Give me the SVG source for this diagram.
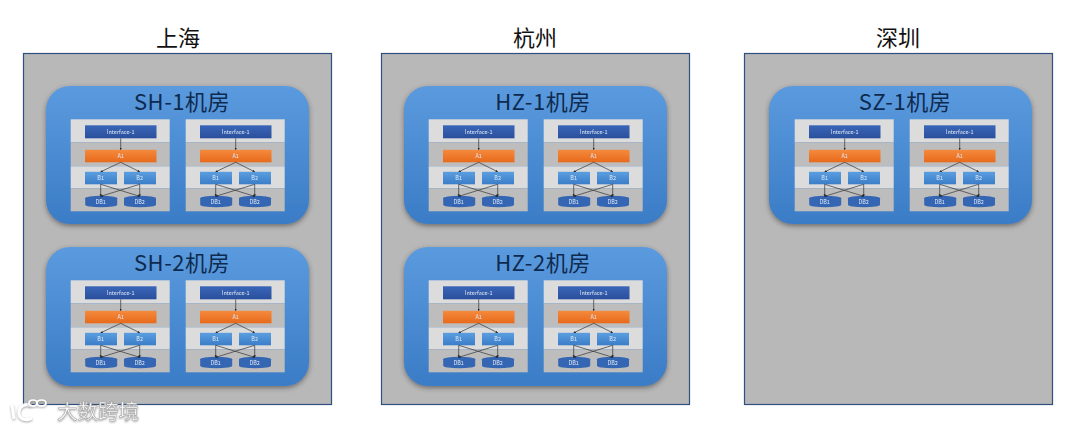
<svg xmlns="http://www.w3.org/2000/svg" width="1080" height="431" viewBox="0 0 1080 431">
<style>
text{font-family:"Noto Sans CJK SC","Noto Sans",sans-serif;text-anchor:middle}
.ttl{font-size:22px;fill:#111}
.room{font-size:22px;letter-spacing:.5px;fill:#0e2a4e}
.site{fill:#b8b8b8;stroke:#2f4f80;stroke-width:1.2}
.rm{fill:url(#blue);filter:url(#sh)}
.l{fill:#dcdcdc}.d{fill:#bdbdbd}
.cell{filter:url(#soft)}
.i{fill:url(#ib)}.a{fill:url(#oa)}.b{fill:url(#bb)}.db{fill:#3566b4}
.s{font-size:5.5px;fill:#dfe8f5}
.k{stroke:#333;stroke-width:.7;fill:none;marker-end:url(#ar)}
.wm{font-size:20.500px;fill:#fff;stroke:#aaa;stroke-width:.6;filter:url(#wmf)}
.wl{fill:none;stroke:#fff;stroke-width:3;filter:url(#wmf)}
.wi{fill:none;stroke:#fff;stroke-width:1.700;filter:url(#wmf)}
</style>
<defs>
<linearGradient id="blue" x1="0" y1="0" x2="0" y2="1"><stop offset="0" stop-color="#5b9ade"/><stop offset="1" stop-color="#3a7cc6"/></linearGradient>
<linearGradient id="ib" x1="0" y1="0" x2="0" y2="1"><stop offset="0" stop-color="#3a66b8"/><stop offset="1" stop-color="#2a4f9c"/></linearGradient>
<linearGradient id="oa" x1="0" y1="0" x2="0" y2="1"><stop offset="0" stop-color="#f58a3c"/><stop offset="1" stop-color="#e86a1c"/></linearGradient>
<linearGradient id="bb" x1="0" y1="0" x2="0" y2="1"><stop offset="0" stop-color="#5b9ee0"/><stop offset="1" stop-color="#3b7ec8"/></linearGradient>
<filter id="sh" x="-5%" y="-5%" width="110%" height="112%"><feDropShadow dx="0" dy="2" stdDeviation="2.500" flood-color="#333" flood-opacity=".55"/></filter>
<filter id="soft" x="-3%" y="-3%" width="106%" height="106%"><feGaussianBlur stdDeviation=".35"/></filter>
<filter id="wmf" x="-15%" y="-25%" width="130%" height="160%"><feDropShadow dx="0" dy="1" stdDeviation="1" flood-color="#777" flood-opacity=".7"/></filter>
<marker id="ar" markerWidth="4" markerHeight="4" refX="3" refY="2" orient="auto"><path d="M0,0.4 L3.4,2 L0,3.6z" fill="#222"/></marker>
<path id="cyl" class="db" d="M0,2.500 a16,2.500 0 0 1 32,0 v6.500 a16,2.500 0 0 1 -32,0z"/>
<g id="links">
<path class="k" d="M50,19 V30.500"/>
<path class="k" d="M50,43 L30,52.500"/>
<path class="k" d="M50,43 L69,52.500"/>
<path class="k" d="M30,65 V77"/>
<path class="k" d="M69,65 V77"/>
<path class="k" d="M30,65 L69,77"/>
<path class="k" d="M69,65 L30,77"/>
</g>
</defs>
<rect width="1080" height="431" fill="#fff"/>
<text class="ttl" x="178" y="46">上海</text>
<text class="ttl" x="535" y="46">杭州</text>
<text class="ttl" x="898" y="46">深圳</text>
<g id="site-sh"><rect class="site" x="23.500" y="53.500" width="308" height="351"/></g>
<g id="site-hz"><rect class="site" x="381.500" y="53.500" width="308" height="351"/></g>
<g id="site-sz"><rect class="site" x="744.500" y="53.500" width="308" height="351"/></g>
<g id="room-sh1"><rect class="rm" x="46" y="86" width="263" height="138" rx="24"/><text class="room" x="182" y="110">SH-1机房</text></g>
<g id="room-sh2"><rect class="rm" x="46" y="247" width="263" height="139" rx="24"/><text class="room" x="182" y="271">SH-2机房</text></g>
<g id="room-hz1"><rect class="rm" x="404" y="86" width="263" height="138" rx="24"/><text class="room" x="543" y="110">HZ-1机房</text></g>
<g id="room-hz2"><rect class="rm" x="404" y="247" width="263" height="139" rx="24"/><text class="room" x="543" y="271">HZ-2机房</text></g>
<g id="room-sz1"><rect class="rm" x="769" y="86" width="263" height="138" rx="24"/><text class="room" x="905" y="110">SZ-1机房</text></g>

<g id="cell-sh1-a" class="cell" transform="translate(70.700 119.300)"><rect class="l" width="99" height="23"/><rect class="d" y="23" width="99" height="24"/><rect class="l" y="47" width="99" height="22"/><rect class="d" y="69" width="99" height="23"/><rect class="i" x="14.300" y="6" width="71.500" height="13"/><text class="s" x="50" y="14.500">Interface-1</text><rect class="a" x="14.300" y="30.500" width="71.500" height="12.500"/><text class="s" x="50" y="39">A1</text><rect class="b" x="14.300" y="52.500" width="32" height="12.500"/><text class="s" x="30" y="61">B1</text><rect class="b" x="53.300" y="52.500" width="32" height="12.500"/><text class="s" x="69" y="61">B2</text><use href="#cyl" x="14.500" y="76.500"/><text class="s" x="30" y="85">DB1</text><use href="#cyl" x="53.300" y="76.500"/><text class="s" x="69" y="85">DB2</text></g>
<g id="cell-sh1-b" class="cell" transform="translate(185.700 119.300)"><rect class="l" width="99" height="23"/><rect class="d" y="23" width="99" height="24"/><rect class="l" y="47" width="99" height="22"/><rect class="d" y="69" width="99" height="23"/><rect class="i" x="14.300" y="6" width="71.500" height="13"/><text class="s" x="50" y="14.500">Interface-1</text><rect class="a" x="14.300" y="30.500" width="71.500" height="12.500"/><text class="s" x="50" y="39">A1</text><rect class="b" x="14.300" y="52.500" width="32" height="12.500"/><text class="s" x="30" y="61">B1</text><rect class="b" x="53.300" y="52.500" width="32" height="12.500"/><text class="s" x="69" y="61">B2</text><use href="#cyl" x="14.500" y="76.500"/><text class="s" x="30" y="85">DB1</text><use href="#cyl" x="53.300" y="76.500"/><text class="s" x="69" y="85">DB2</text></g>
<g id="cell-sh2-a" class="cell" transform="translate(70.700 280.300)"><rect class="l" width="99" height="23"/><rect class="d" y="23" width="99" height="24"/><rect class="l" y="47" width="99" height="22"/><rect class="d" y="69" width="99" height="23"/><rect class="i" x="14.300" y="6" width="71.500" height="13"/><text class="s" x="50" y="14.500">Interface-1</text><rect class="a" x="14.300" y="30.500" width="71.500" height="12.500"/><text class="s" x="50" y="39">A1</text><rect class="b" x="14.300" y="52.500" width="32" height="12.500"/><text class="s" x="30" y="61">B1</text><rect class="b" x="53.300" y="52.500" width="32" height="12.500"/><text class="s" x="69" y="61">B2</text><use href="#cyl" x="14.500" y="76.500"/><text class="s" x="30" y="85">DB1</text><use href="#cyl" x="53.300" y="76.500"/><text class="s" x="69" y="85">DB2</text></g>
<g id="cell-sh2-b" class="cell" transform="translate(185.700 280.300)"><rect class="l" width="99" height="23"/><rect class="d" y="23" width="99" height="24"/><rect class="l" y="47" width="99" height="22"/><rect class="d" y="69" width="99" height="23"/><rect class="i" x="14.300" y="6" width="71.500" height="13"/><text class="s" x="50" y="14.500">Interface-1</text><rect class="a" x="14.300" y="30.500" width="71.500" height="12.500"/><text class="s" x="50" y="39">A1</text><rect class="b" x="14.300" y="52.500" width="32" height="12.500"/><text class="s" x="30" y="61">B1</text><rect class="b" x="53.300" y="52.500" width="32" height="12.500"/><text class="s" x="69" y="61">B2</text><use href="#cyl" x="14.500" y="76.500"/><text class="s" x="30" y="85">DB1</text><use href="#cyl" x="53.300" y="76.500"/><text class="s" x="69" y="85">DB2</text></g>
<g id="cell-hz1-a" class="cell" transform="translate(428.700 119.300)"><rect class="l" width="99" height="23"/><rect class="d" y="23" width="99" height="24"/><rect class="l" y="47" width="99" height="22"/><rect class="d" y="69" width="99" height="23"/><rect class="i" x="14.300" y="6" width="71.500" height="13"/><text class="s" x="50" y="14.500">Interface-1</text><rect class="a" x="14.300" y="30.500" width="71.500" height="12.500"/><text class="s" x="50" y="39">A1</text><rect class="b" x="14.300" y="52.500" width="32" height="12.500"/><text class="s" x="30" y="61">B1</text><rect class="b" x="53.300" y="52.500" width="32" height="12.500"/><text class="s" x="69" y="61">B2</text><use href="#cyl" x="14.500" y="76.500"/><text class="s" x="30" y="85">DB1</text><use href="#cyl" x="53.300" y="76.500"/><text class="s" x="69" y="85">DB2</text></g>
<g id="cell-hz1-b" class="cell" transform="translate(543.700 119.300)"><rect class="l" width="99" height="23"/><rect class="d" y="23" width="99" height="24"/><rect class="l" y="47" width="99" height="22"/><rect class="d" y="69" width="99" height="23"/><rect class="i" x="14.300" y="6" width="71.500" height="13"/><text class="s" x="50" y="14.500">Interface-1</text><rect class="a" x="14.300" y="30.500" width="71.500" height="12.500"/><text class="s" x="50" y="39">A1</text><rect class="b" x="14.300" y="52.500" width="32" height="12.500"/><text class="s" x="30" y="61">B1</text><rect class="b" x="53.300" y="52.500" width="32" height="12.500"/><text class="s" x="69" y="61">B2</text><use href="#cyl" x="14.500" y="76.500"/><text class="s" x="30" y="85">DB1</text><use href="#cyl" x="53.300" y="76.500"/><text class="s" x="69" y="85">DB2</text></g>
<g id="cell-hz2-a" class="cell" transform="translate(428.700 280.300)"><rect class="l" width="99" height="23"/><rect class="d" y="23" width="99" height="24"/><rect class="l" y="47" width="99" height="22"/><rect class="d" y="69" width="99" height="23"/><rect class="i" x="14.300" y="6" width="71.500" height="13"/><text class="s" x="50" y="14.500">Interface-1</text><rect class="a" x="14.300" y="30.500" width="71.500" height="12.500"/><text class="s" x="50" y="39">A1</text><rect class="b" x="14.300" y="52.500" width="32" height="12.500"/><text class="s" x="30" y="61">B1</text><rect class="b" x="53.300" y="52.500" width="32" height="12.500"/><text class="s" x="69" y="61">B2</text><use href="#cyl" x="14.500" y="76.500"/><text class="s" x="30" y="85">DB1</text><use href="#cyl" x="53.300" y="76.500"/><text class="s" x="69" y="85">DB2</text></g>
<g id="cell-hz2-b" class="cell" transform="translate(543.700 280.300)"><rect class="l" width="99" height="23"/><rect class="d" y="23" width="99" height="24"/><rect class="l" y="47" width="99" height="22"/><rect class="d" y="69" width="99" height="23"/><rect class="i" x="14.300" y="6" width="71.500" height="13"/><text class="s" x="50" y="14.500">Interface-1</text><rect class="a" x="14.300" y="30.500" width="71.500" height="12.500"/><text class="s" x="50" y="39">A1</text><rect class="b" x="14.300" y="52.500" width="32" height="12.500"/><text class="s" x="30" y="61">B1</text><rect class="b" x="53.300" y="52.500" width="32" height="12.500"/><text class="s" x="69" y="61">B2</text><use href="#cyl" x="14.500" y="76.500"/><text class="s" x="30" y="85">DB1</text><use href="#cyl" x="53.300" y="76.500"/><text class="s" x="69" y="85">DB2</text></g>
<g id="cell-sz1-a" class="cell" transform="translate(794.700 119.300)"><rect class="l" width="99" height="23"/><rect class="d" y="23" width="99" height="24"/><rect class="l" y="47" width="99" height="22"/><rect class="d" y="69" width="99" height="23"/><rect class="i" x="14.300" y="6" width="71.500" height="13"/><text class="s" x="50" y="14.500">Interface-1</text><rect class="a" x="14.300" y="30.500" width="71.500" height="12.500"/><text class="s" x="50" y="39">A1</text><rect class="b" x="14.300" y="52.500" width="32" height="12.500"/><text class="s" x="30" y="61">B1</text><rect class="b" x="53.300" y="52.500" width="32" height="12.500"/><text class="s" x="69" y="61">B2</text><use href="#cyl" x="14.500" y="76.500"/><text class="s" x="30" y="85">DB1</text><use href="#cyl" x="53.300" y="76.500"/><text class="s" x="69" y="85">DB2</text></g>
<g id="cell-sz1-b" class="cell" transform="translate(909.700 119.300)"><rect class="l" width="99" height="23"/><rect class="d" y="23" width="99" height="24"/><rect class="l" y="47" width="99" height="22"/><rect class="d" y="69" width="99" height="23"/><rect class="i" x="14.300" y="6" width="71.500" height="13"/><text class="s" x="50" y="14.500">Interface-1</text><rect class="a" x="14.300" y="30.500" width="71.500" height="12.500"/><text class="s" x="50" y="39">A1</text><rect class="b" x="14.300" y="52.500" width="32" height="12.500"/><text class="s" x="30" y="61">B1</text><rect class="b" x="53.300" y="52.500" width="32" height="12.500"/><text class="s" x="69" y="61">B2</text><use href="#cyl" x="14.500" y="76.500"/><text class="s" x="30" y="85">DB1</text><use href="#cyl" x="53.300" y="76.500"/><text class="s" x="69" y="85">DB2</text></g>

<g id="connectors">
<use href="#links" x="70.700" y="119.300"/>
<use href="#links" x="185.700" y="119.300"/>
<use href="#links" x="70.700" y="280.300"/>
<use href="#links" x="185.700" y="280.300"/>
<use href="#links" x="428.700" y="119.300"/>
<use href="#links" x="543.700" y="119.300"/>
<use href="#links" x="428.700" y="280.300"/>
<use href="#links" x="543.700" y="280.300"/>
<use href="#links" x="794.700" y="119.300"/>
<use href="#links" x="909.700" y="119.300"/>
</g>
<g id="watermark">
<path class="wl" d="M12,405 L14,419 M31,406 C24,402 18,408 19,414 C20,420 27,421 32,418"/>
<path class="wi" d="M29,403 C29,399 37,399 37,403 C37,407 29,407 29,403 M37,403 C37,399 46,399 46,403 C46,407 37,407 37,403"/>
<text class="wm" x="98" y="419">大数跨境</text>
</g>
</svg>
